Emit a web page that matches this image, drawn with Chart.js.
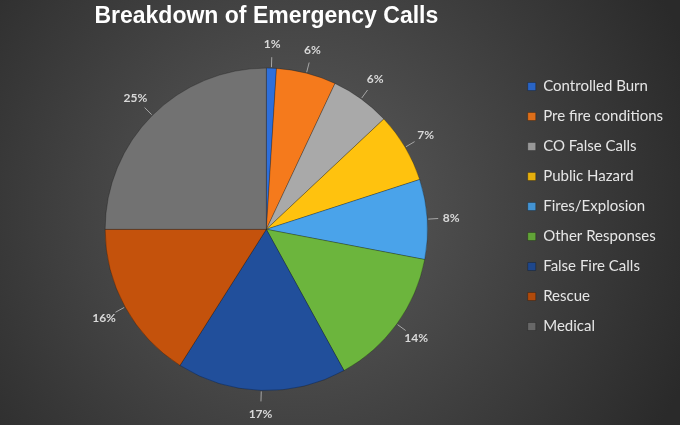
<!DOCTYPE html>
<html>
<head>
<meta charset="utf-8">
<script src="https://cdn.jsdelivr.net/npm/chart.js@4.4.0/dist/chart.umd.min.js"></script>
<style>
  html, body { margin: 0; padding: 0; background: #333; }
  #wrap { width: 680px; height: 425px; }
</style>
</head>
<body>
<div id="wrap"><canvas id="chart"></canvas></div>
<script>
// data (percent of calls)
const categories = ["Controlled Burn", "Pre fire conditions", "CO False Calls", "Public Hazard",
  "Fires/Explosion", "Other Responses", "False Fire Calls", "Rescue", "Medical"];
const shares = [1, 6, 6, 7, 8, 14, 17, 16, 25];
const sliceColors = ["#2e6fdb", "#f57a1c", "#a9a9a9", "#ffc20e", "#4aa3ea",
  "#6cb53d", "#214f9b", "#c4520c", "#727272"];

function shade(hex, amt){
  const n = parseInt(hex.slice(1), 16);
  let r = (n >> 16) & 255, g = (n >> 8) & 255, b = n & 255;
  const f = v => Math.max(0, Math.min(255, Math.round(amt > 0 ? v + (255 - v) * amt : v * (1 + amt))));
  return `rgb(${f(r)},${f(g)},${f(b)})`;
}

// dark radial background
const bgPlugin = {
  id: 'bg',
  beforeDraw(chart){
    const {ctx, width, height} = chart;
    const g = ctx.createRadialGradient(300, 210, 20, 300, 210, 420);
    g.addColorStop(0, '#5a5a5a');
    g.addColorStop(1, '#2a2a2a');
    ctx.save();
    ctx.fillStyle = g;
    ctx.fillRect(0, 0, width, height);
    ctx.restore();
  }
};

// percent labels outside the slices with short leader lines
const outLabels = {
  id: 'outLabels',
  afterDatasetsDraw(chart){
    const ctx = chart.ctx;
    const meta = chart.getDatasetMeta(0);
    ctx.save();
    ctx.font = 'bold 12px Lato';
    ctx.fillStyle = '#d9d9d9';
    ctx.strokeStyle = '#a6a6a6';
    ctx.lineWidth = 1;
    ctx.textAlign = 'center';
    ctx.textBaseline = 'middle';
    meta.data.forEach((arc, i) => {
      const p = arc.getProps(['x', 'y', 'startAngle', 'endAngle', 'outerRadius'], true);
      const a = (p.startAngle + p.endAngle) / 2;
      const c = Math.cos(a), s = Math.sin(a);
      const r = p.outerRadius;
      ctx.beginPath();
      ctx.moveTo(p.x + c * (r + 1), p.y + s * (r + 1));
      ctx.lineTo(p.x + c * (r + 11), p.y + s * (r + 11));
      ctx.stroke();
      ctx.fillText(shares[i] + '%', p.x + c * (r + 24), p.y + s * (r + 24));
    });
    ctx.restore();
  }
};

const ctx = document.getElementById('chart').getContext('2d');
new Chart(ctx, {
  type: 'pie',
  data: {
    labels: categories,
    datasets: [{
      data: shares,
      backgroundColor: c => {
        const base = sliceColors[c.dataIndex];
        const arc = c.element;
        if (!arc || !arc.outerRadius) return base;
        const g = c.chart.ctx.createRadialGradient(arc.x, arc.y, 0, arc.x, arc.y, arc.outerRadius);
        g.addColorStop(0, shade(base, -0.08));
        g.addColorStop(0.9, base);
        g.addColorStop(0.96, shade(base, 0.15));
        g.addColorStop(1, shade(base, -0.1));
        return g;
      },
      borderColor: 'rgba(0,0,0,0.25)',
      borderWidth: 1
    }]
  },
  options: {
    responsive: true,
    maintainAspectRatio: false,
    animation: false,
    layout: { padding: { left: 20, right: 7, top: 0, bottom: 34 } },
    plugins: {
      title: {
        display: true,
        text: 'Breakdown of Emergency Calls',
        color: '#ffffff',
        fullSize: false,
        font: { family: 'Liberation Sans', size: 23, weight: 'bold' },
        padding: { top: 3, bottom: 37 }
      },
      legend: {
        position: 'right',
        title: { display: true, text: ' ', font: { size: 10 }, padding: 5 },
        labels: {
          color: '#e6e6e6',
          font: { family: 'Lato', size: 15 },
          boxWidth: 8,
          boxHeight: 8,
          padding: 15
        }
      },
      tooltip: { enabled: false }
    }
  },
  plugins: [bgPlugin, outLabels]
});
</script>
</body>
</html>
